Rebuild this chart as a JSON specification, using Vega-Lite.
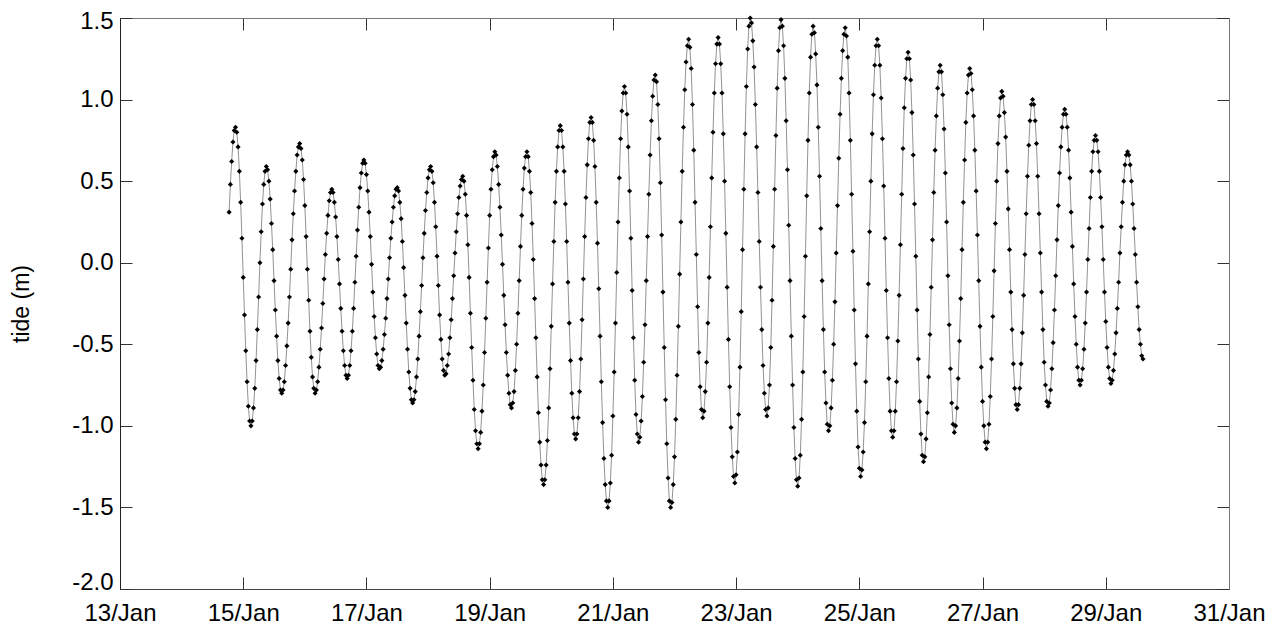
{
"$schema":"https://vega.github.io/schema/vega-lite/v6.json",
"width":1109,"height":571,
"autosize":{"type":"none"},
"padding":{"left":120,"top":18,"right":56,"bottom":39},
"background":"white",
"config":{"view":{"stroke":null},"font":"Liberation Sans","axis":{"labelFont":"Liberation Sans","titleFont":"Liberation Sans","labelFontSize":24,"titleFontSize":23,"labelColor":"black","titleColor":"black","titleFontWeight":"normal","grid":false,"tickSize":-12,"tickColor":"#333","domainColor":"#333","labelFlush":false,"labelOverlap":false}},
"data":{"values":[
{"h":42.5,"v":0.31},{"h":43,"v":0.48},{"h":43.5,"v":0.62},{"h":44,"v":0.74},{"h":44.5,"v":0.81},{"h":45,"v":0.83},
{"h":45.5,"v":0.80},{"h":46,"v":0.71},{"h":46.5,"v":0.56},{"h":47,"v":0.37},{"h":47.5,"v":0.15},{"h":48,"v":-0.09},{"h":48.5,"v":-0.32},{"h":49,"v":-0.54},{"h":49.5,"v":-0.73},{"h":50,"v":-0.88},{"h":50.5,"v":-0.97},{"h":51,"v":-1.00},
{"h":51.5,"v":-0.97},{"h":52,"v":-0.89},{"h":52.5,"v":-0.77},{"h":53,"v":-0.60},{"h":53.5,"v":-0.41},{"h":54,"v":-0.21},{"h":54.5,"v":0.00},{"h":55,"v":0.19},{"h":55.5,"v":0.36},{"h":56,"v":0.48},{"h":56.5,"v":0.56},{"h":57,"v":0.59},
{"h":57.5,"v":0.57},{"h":58,"v":0.50},{"h":58.5,"v":0.39},{"h":59,"v":0.24},{"h":59.5,"v":0.08},{"h":60,"v":-0.11},{"h":60.5,"v":-0.29},{"h":61,"v":-0.45},{"h":61.5,"v":-0.60},{"h":62,"v":-0.71},{"h":62.5,"v":-0.78},{"h":63,"v":-0.80},
{"h":63.5,"v":-0.78},{"h":64,"v":-0.73},{"h":64.5,"v":-0.63},{"h":65,"v":-0.51},{"h":65.5,"v":-0.37},{"h":66,"v":-0.21},{"h":66.5,"v":-0.04},{"h":67,"v":0.14},{"h":67.5,"v":0.30},{"h":68,"v":0.44},{"h":68.5,"v":0.56},{"h":69,"v":0.66},{"h":69.5,"v":0.71},{"h":70,"v":0.73},
{"h":70.5,"v":0.70},{"h":71,"v":0.63},{"h":71.5,"v":0.51},{"h":72,"v":0.35},{"h":72.5,"v":0.16},{"h":73,"v":-0.04},{"h":73.5,"v":-0.23},{"h":74,"v":-0.42},{"h":74.5,"v":-0.58},{"h":75,"v":-0.70},{"h":75.5,"v":-0.77},{"h":76,"v":-0.80},
{"h":76.5,"v":-0.78},{"h":77,"v":-0.73},{"h":77.5,"v":-0.64},{"h":78,"v":-0.53},{"h":78.5,"v":-0.40},{"h":79,"v":-0.25},{"h":79.5,"v":-0.10},{"h":80,"v":0.05},{"h":80.5,"v":0.18},{"h":81,"v":0.29},{"h":81.5,"v":0.38},{"h":82,"v":0.43},{"h":82.5,"v":0.45},
{"h":83,"v":0.43},{"h":83.5,"v":0.37},{"h":84,"v":0.28},{"h":84.5,"v":0.16},{"h":85,"v":0.02},{"h":85.5,"v":-0.13},{"h":86,"v":-0.28},{"h":86.5,"v":-0.42},{"h":87,"v":-0.54},{"h":87.5,"v":-0.63},{"h":88,"v":-0.69},{"h":88.5,"v":-0.71},
{"h":89,"v":-0.69},{"h":89.5,"v":-0.63},{"h":90,"v":-0.54},{"h":90.5,"v":-0.42},{"h":91,"v":-0.28},{"h":91.5,"v":-0.12},{"h":92,"v":0.04},{"h":92.5,"v":0.20},{"h":93,"v":0.34},{"h":93.5,"v":0.46},{"h":94,"v":0.55},{"h":94.5,"v":0.61},{"h":95,"v":0.63},
{"h":95.5,"v":0.61},{"h":96,"v":0.54},{"h":96.5,"v":0.44},{"h":97,"v":0.31},{"h":97.5,"v":0.16},{"h":98,"v":-0.01},{"h":98.5,"v":-0.18},{"h":99,"v":-0.33},{"h":99.5,"v":-0.46},{"h":100,"v":-0.56},{"h":100.5,"v":-0.63},{"h":101,"v":-0.65},
{"h":101.5,"v":-0.64},{"h":102,"v":-0.60},{"h":102.5,"v":-0.53},{"h":103,"v":-0.44},{"h":103.5,"v":-0.34},{"h":104,"v":-0.22},{"h":104.5,"v":-0.10},{"h":105,"v":0.03},{"h":105.5,"v":0.15},{"h":106,"v":0.25},{"h":106.5,"v":0.34},{"h":107,"v":0.41},{"h":107.5,"v":0.45},{"h":108,"v":0.46},
{"h":108.5,"v":0.44},{"h":109,"v":0.37},{"h":109.5,"v":0.27},{"h":110,"v":0.13},{"h":110.5,"v":-0.03},{"h":111,"v":-0.20},{"h":111.5,"v":-0.37},{"h":112,"v":-0.53},{"h":112.5,"v":-0.67},{"h":113,"v":-0.77},{"h":113.5,"v":-0.84},{"h":114,"v":-0.86},
{"h":114.5,"v":-0.84},{"h":115,"v":-0.79},{"h":115.5,"v":-0.70},{"h":116,"v":-0.59},{"h":116.5,"v":-0.45},{"h":117,"v":-0.30},{"h":117.5,"v":-0.14},{"h":118,"v":0.03},{"h":118.5,"v":0.18},{"h":119,"v":0.32},{"h":119.5,"v":0.43},{"h":120,"v":0.52},{"h":120.5,"v":0.57},{"h":121,"v":0.59},
{"h":121.5,"v":0.56},{"h":122,"v":0.49},{"h":122.5,"v":0.37},{"h":123,"v":0.22},{"h":123.5,"v":0.04},{"h":124,"v":-0.14},{"h":124.5,"v":-0.32},{"h":125,"v":-0.47},{"h":125.5,"v":-0.59},{"h":126,"v":-0.66},{"h":126.5,"v":-0.69},
{"h":127,"v":-0.68},{"h":127.5,"v":-0.63},{"h":128,"v":-0.56},{"h":128.5,"v":-0.46},{"h":129,"v":-0.35},{"h":129.5,"v":-0.22},{"h":130,"v":-0.08},{"h":130.5,"v":0.06},{"h":131,"v":0.19},{"h":131.5,"v":0.30},{"h":132,"v":0.40},{"h":132.5,"v":0.47},{"h":133,"v":0.51},{"h":133.5,"v":0.53},
{"h":134,"v":0.50},{"h":134.5,"v":0.42},{"h":135,"v":0.29},{"h":135.5,"v":0.11},{"h":136,"v":-0.09},{"h":136.5,"v":-0.31},{"h":137,"v":-0.52},{"h":137.5,"v":-0.72},{"h":138,"v":-0.90},{"h":138.5,"v":-1.03},{"h":139,"v":-1.11},{"h":139.5,"v":-1.14},
{"h":140,"v":-1.11},{"h":140.5,"v":-1.04},{"h":141,"v":-0.91},{"h":141.5,"v":-0.75},{"h":142,"v":-0.55},{"h":142.5,"v":-0.34},{"h":143,"v":-0.12},{"h":143.5,"v":0.09},{"h":144,"v":0.29},{"h":144.5,"v":0.45},{"h":145,"v":0.57},{"h":145.5,"v":0.65},{"h":146,"v":0.68},
{"h":146.5,"v":0.66},{"h":147,"v":0.59},{"h":147.5,"v":0.48},{"h":148,"v":0.34},{"h":148.5,"v":0.17},{"h":149,"v":-0.01},{"h":149.5,"v":-0.20},{"h":150,"v":-0.38},{"h":150.5,"v":-0.55},{"h":151,"v":-0.69},{"h":151.5,"v":-0.80},{"h":152,"v":-0.87},{"h":152.5,"v":-0.89},
{"h":153,"v":-0.86},{"h":153.5,"v":-0.79},{"h":154,"v":-0.66},{"h":154.5,"v":-0.50},{"h":155,"v":-0.31},{"h":155.5,"v":-0.11},{"h":156,"v":0.10},{"h":156.5,"v":0.29},{"h":157,"v":0.45},{"h":157.5,"v":0.58},{"h":158,"v":0.65},{"h":158.5,"v":0.68},
{"h":159,"v":0.65},{"h":159.5,"v":0.56},{"h":160,"v":0.43},{"h":160.5,"v":0.24},{"h":161,"v":0.02},{"h":161.5,"v":-0.22},{"h":162,"v":-0.46},{"h":162.5,"v":-0.70},{"h":163,"v":-0.92},{"h":163.5,"v":-1.10},{"h":164,"v":-1.24},{"h":164.5,"v":-1.33},{"h":165,"v":-1.36},
{"h":165.5,"v":-1.33},{"h":166,"v":-1.24},{"h":166.5,"v":-1.09},{"h":167,"v":-0.89},{"h":167.5,"v":-0.65},{"h":168,"v":-0.39},{"h":168.5,"v":-0.13},{"h":169,"v":0.13},{"h":169.5,"v":0.37},{"h":170,"v":0.56},{"h":170.5,"v":0.71},{"h":171,"v":0.81},{"h":171.5,"v":0.84},
{"h":172,"v":0.81},{"h":172.5,"v":0.71},{"h":173,"v":0.56},{"h":173.5,"v":0.36},{"h":174,"v":0.13},{"h":174.5,"v":-0.12},{"h":175,"v":-0.37},{"h":175.5,"v":-0.60},{"h":176,"v":-0.80},{"h":176.5,"v":-0.95},{"h":177,"v":-1.05},{"h":177.5,"v":-1.08},
{"h":178,"v":-1.05},{"h":178.5,"v":-0.95},{"h":179,"v":-0.79},{"h":179.5,"v":-0.59},{"h":180,"v":-0.35},{"h":180.5,"v":-0.10},{"h":181,"v":0.16},{"h":181.5,"v":0.40},{"h":182,"v":0.60},{"h":182.5,"v":0.76},{"h":183,"v":0.86},{"h":183.5,"v":0.89},
{"h":184,"v":0.86},{"h":184.5,"v":0.75},{"h":185,"v":0.59},{"h":185.5,"v":0.37},{"h":186,"v":0.12},{"h":186.5,"v":-0.16},{"h":187,"v":-0.45},{"h":187.5,"v":-0.73},{"h":188,"v":-0.98},{"h":188.5,"v":-1.20},{"h":189,"v":-1.36},{"h":189.5,"v":-1.46},{"h":190,"v":-1.50},
{"h":190.5,"v":-1.46},{"h":191,"v":-1.35},{"h":191.5,"v":-1.18},{"h":192,"v":-0.94},{"h":192.5,"v":-0.67},{"h":193,"v":-0.37},{"h":193.5,"v":-0.06},{"h":194,"v":0.25},{"h":194.5,"v":0.52},{"h":195,"v":0.76},{"h":195.5,"v":0.93},{"h":196,"v":1.04},{"h":196.5,"v":1.08},
{"h":197,"v":1.04},{"h":197.5,"v":0.91},{"h":198,"v":0.71},{"h":198.5,"v":0.44},{"h":199,"v":0.15},{"h":199.5,"v":-0.17},{"h":200,"v":-0.46},{"h":200.5,"v":-0.72},{"h":201,"v":-0.93},{"h":201.5,"v":-1.05},{"h":202,"v":-1.10},
{"h":202.5,"v":-1.07},{"h":203,"v":-0.97},{"h":203.5,"v":-0.82},{"h":204,"v":-0.61},{"h":204.5,"v":-0.38},{"h":205,"v":-0.11},{"h":205.5,"v":0.16},{"h":206,"v":0.42},{"h":206.5,"v":0.66},{"h":207,"v":0.87},{"h":207.5,"v":1.02},{"h":208,"v":1.12},{"h":208.5,"v":1.15},
{"h":209,"v":1.11},{"h":209.5,"v":0.97},{"h":210,"v":0.76},{"h":210.5,"v":0.49},{"h":211,"v":0.17},{"h":211.5,"v":-0.18},{"h":212,"v":-0.52},{"h":212.5,"v":-0.84},{"h":213,"v":-1.11},{"h":213.5,"v":-1.32},{"h":214,"v":-1.46},{"h":214.5,"v":-1.50},
{"h":215,"v":-1.47},{"h":215.5,"v":-1.36},{"h":216,"v":-1.19},{"h":216.5,"v":-0.96},{"h":217,"v":-0.69},{"h":217.5,"v":-0.39},{"h":218,"v":-0.07},{"h":218.5,"v":0.25},{"h":219,"v":0.56},{"h":219.5,"v":0.83},{"h":220,"v":1.06},{"h":220.5,"v":1.23},{"h":221,"v":1.33},{"h":221.5,"v":1.37},
{"h":222,"v":1.32},{"h":222.5,"v":1.19},{"h":223,"v":0.97},{"h":223.5,"v":0.69},{"h":224,"v":0.37},{"h":224.5,"v":0.05},{"h":225,"v":-0.27},{"h":225.5,"v":-0.55},{"h":226,"v":-0.76},{"h":226.5,"v":-0.90},{"h":227,"v":-0.95},
{"h":227.5,"v":-0.91},{"h":228,"v":-0.79},{"h":228.5,"v":-0.61},{"h":229,"v":-0.37},{"h":229.5,"v":-0.09},{"h":230,"v":0.22},{"h":230.5,"v":0.52},{"h":231,"v":0.80},{"h":231.5,"v":1.04},{"h":232,"v":1.22},{"h":232.5,"v":1.34},{"h":233,"v":1.38},
{"h":233.5,"v":1.34},{"h":234,"v":1.22},{"h":234.5,"v":1.04},{"h":235,"v":0.79},{"h":235.5,"v":0.50},{"h":236,"v":0.18},{"h":236.5,"v":-0.15},{"h":237,"v":-0.47},{"h":237.5,"v":-0.76},{"h":238,"v":-1.01},{"h":238.5,"v":-1.19},{"h":239,"v":-1.31},{"h":239.5,"v":-1.35},
{"h":240,"v":-1.30},{"h":240.5,"v":-1.16},{"h":241,"v":-0.93},{"h":241.5,"v":-0.64},{"h":242,"v":-0.30},{"h":242.5,"v":0.08},{"h":243,"v":0.45},{"h":243.5,"v":0.79},{"h":244,"v":1.08},{"h":244.5,"v":1.31},{"h":245,"v":1.45},{"h":245.5,"v":1.50},
{"h":246,"v":1.47},{"h":246.5,"v":1.36},{"h":247,"v":1.20},{"h":247.5,"v":0.97},{"h":248,"v":0.71},{"h":248.5,"v":0.43},{"h":249,"v":0.13},{"h":249.5,"v":-0.15},{"h":250,"v":-0.41},{"h":250.5,"v":-0.63},{"h":251,"v":-0.80},{"h":251.5,"v":-0.90},{"h":252,"v":-0.94},
{"h":252.5,"v":-0.89},{"h":253,"v":-0.75},{"h":253.5,"v":-0.52},{"h":254,"v":-0.23},{"h":254.5,"v":0.10},{"h":255,"v":0.45},{"h":255.5,"v":0.78},{"h":256,"v":1.07},{"h":256.5,"v":1.30},{"h":257,"v":1.44},{"h":257.5,"v":1.49},
{"h":258,"v":1.45},{"h":258.5,"v":1.33},{"h":259,"v":1.13},{"h":259.5,"v":0.87},{"h":260,"v":0.57},{"h":260.5,"v":0.23},{"h":261,"v":-0.11},{"h":261.5,"v":-0.45},{"h":262,"v":-0.75},{"h":262.5,"v":-1.01},{"h":263,"v":-1.20},{"h":263.5,"v":-1.33},{"h":264,"v":-1.37},
{"h":264.5,"v":-1.32},{"h":265,"v":-1.18},{"h":265.5,"v":-0.96},{"h":266,"v":-0.67},{"h":266.5,"v":-0.33},{"h":267,"v":0.04},{"h":267.5,"v":0.41},{"h":268,"v":0.75},{"h":268.5,"v":1.04},{"h":269,"v":1.26},{"h":269.5,"v":1.40},{"h":270,"v":1.45},
{"h":270.5,"v":1.41},{"h":271,"v":1.28},{"h":271.5,"v":1.09},{"h":272,"v":0.83},{"h":272.5,"v":0.53},{"h":273,"v":0.21},{"h":273.5,"v":-0.11},{"h":274,"v":-0.41},{"h":274.5,"v":-0.67},{"h":275,"v":-0.86},{"h":275.5,"v":-0.99},{"h":276,"v":-1.03},
{"h":276.5,"v":-1.00},{"h":277,"v":-0.89},{"h":277.5,"v":-0.72},{"h":278,"v":-0.50},{"h":278.5,"v":-0.24},{"h":279,"v":0.06},{"h":279.5,"v":0.35},{"h":280,"v":0.64},{"h":280.5,"v":0.91},{"h":281,"v":1.13},{"h":281.5,"v":1.30},{"h":282,"v":1.40},{"h":282.5,"v":1.44},
{"h":283,"v":1.39},{"h":283.5,"v":1.26},{"h":284,"v":1.04},{"h":284.5,"v":0.75},{"h":285,"v":0.42},{"h":285.5,"v":0.07},{"h":286,"v":-0.29},{"h":286.5,"v":-0.62},{"h":287,"v":-0.91},{"h":287.5,"v":-1.13},{"h":288,"v":-1.26},{"h":288.5,"v":-1.31},
{"h":289,"v":-1.27},{"h":289.5,"v":-1.16},{"h":290,"v":-0.98},{"h":290.5,"v":-0.73},{"h":291,"v":-0.45},{"h":291.5,"v":-0.13},{"h":292,"v":0.19},{"h":292.5,"v":0.50},{"h":293,"v":0.79},{"h":293.5,"v":1.03},{"h":294,"v":1.21},{"h":294.5,"v":1.33},{"h":295,"v":1.37},
{"h":295.5,"v":1.33},{"h":296,"v":1.21},{"h":296.5,"v":1.01},{"h":297,"v":0.76},{"h":297.5,"v":0.47},{"h":298,"v":0.15},{"h":298.5,"v":-0.17},{"h":299,"v":-0.46},{"h":299.5,"v":-0.71},{"h":300,"v":-0.91},{"h":300.5,"v":-1.03},{"h":301,"v":-1.07},
{"h":301.5,"v":-1.03},{"h":302,"v":-0.91},{"h":302.5,"v":-0.73},{"h":303,"v":-0.48},{"h":303.5,"v":-0.20},{"h":304,"v":0.11},{"h":304.5,"v":0.42},{"h":305,"v":0.70},{"h":305.5,"v":0.95},{"h":306,"v":1.13},{"h":306.5,"v":1.25},{"h":307,"v":1.29},
{"h":307.5,"v":1.25},{"h":308,"v":1.12},{"h":308.5,"v":0.92},{"h":309,"v":0.66},{"h":309.5,"v":0.36},{"h":310,"v":0.04},{"h":310.5,"v":-0.29},{"h":311,"v":-0.59},{"h":311.5,"v":-0.85},{"h":312,"v":-1.05},{"h":312.5,"v":-1.18},{"h":313,"v":-1.22},
{"h":313.5,"v":-1.19},{"h":314,"v":-1.08},{"h":314.5,"v":-0.92},{"h":315,"v":-0.70},{"h":315.5,"v":-0.44},{"h":316,"v":-0.15},{"h":316.5,"v":0.14},{"h":317,"v":0.43},{"h":317.5,"v":0.69},{"h":318,"v":0.90},{"h":318.5,"v":1.07},{"h":319,"v":1.17},{"h":319.5,"v":1.21},
{"h":320,"v":1.17},{"h":320.5,"v":1.03},{"h":321,"v":0.82},{"h":321.5,"v":0.55},{"h":322,"v":0.25},{"h":322.5,"v":-0.08},{"h":323,"v":-0.38},{"h":323.5,"v":-0.65},{"h":324,"v":-0.86},{"h":324.5,"v":-0.99},{"h":325,"v":-1.04},
{"h":325.5,"v":-1.00},{"h":326,"v":-0.89},{"h":326.5,"v":-0.71},{"h":327,"v":-0.48},{"h":327.5,"v":-0.22},{"h":328,"v":0.08},{"h":328.5,"v":0.37},{"h":329,"v":0.63},{"h":329.5,"v":0.86},{"h":330,"v":1.04},{"h":330.5,"v":1.15},{"h":331,"v":1.19},
{"h":331.5,"v":1.16},{"h":332,"v":1.06},{"h":332.5,"v":0.90},{"h":333,"v":0.69},{"h":333.5,"v":0.44},{"h":334,"v":0.17},{"h":334.5,"v":-0.11},{"h":335,"v":-0.39},{"h":335.5,"v":-0.64},{"h":336,"v":-0.85},{"h":336.5,"v":-1.00},{"h":337,"v":-1.10},{"h":337.5,"v":-1.14},
{"h":338,"v":-1.10},{"h":338.5,"v":-0.99},{"h":339,"v":-0.82},{"h":339.5,"v":-0.59},{"h":340,"v":-0.33},{"h":340.5,"v":-0.05},{"h":341,"v":0.24},{"h":341.5,"v":0.50},{"h":342,"v":0.73},{"h":342.5,"v":0.90},{"h":343,"v":1.01},{"h":343.5,"v":1.05},
{"h":344,"v":1.02},{"h":344.5,"v":0.92},{"h":345,"v":0.77},{"h":345.5,"v":0.56},{"h":346,"v":0.33},{"h":346.5,"v":0.08},{"h":347,"v":-0.18},{"h":347.5,"v":-0.41},{"h":348,"v":-0.62},{"h":348.5,"v":-0.77},{"h":349,"v":-0.87},{"h":349.5,"v":-0.90},
{"h":350,"v":-0.87},{"h":350.5,"v":-0.77},{"h":351,"v":-0.62},{"h":351.5,"v":-0.43},{"h":352,"v":-0.20},{"h":352.5,"v":0.05},{"h":353,"v":0.30},{"h":353.5,"v":0.53},{"h":354,"v":0.72},{"h":354.5,"v":0.87},{"h":355,"v":0.97},{"h":355.5,"v":1.00},
{"h":356,"v":0.97},{"h":356.5,"v":0.87},{"h":357,"v":0.73},{"h":357.5,"v":0.53},{"h":358,"v":0.30},{"h":358.5,"v":0.06},{"h":359,"v":-0.18},{"h":359.5,"v":-0.41},{"h":360,"v":-0.61},{"h":360.5,"v":-0.75},{"h":361,"v":-0.85},{"h":361.5,"v":-0.88},
{"h":362,"v":-0.86},{"h":362.5,"v":-0.78},{"h":363,"v":-0.65},{"h":363.5,"v":-0.49},{"h":364,"v":-0.29},{"h":364.5,"v":-0.08},{"h":365,"v":0.14},{"h":365.5,"v":0.35},{"h":366,"v":0.55},{"h":366.5,"v":0.71},{"h":367,"v":0.83},{"h":367.5,"v":0.91},{"h":368,"v":0.94},
{"h":368.5,"v":0.91},{"h":369,"v":0.83},{"h":369.5,"v":0.69},{"h":370,"v":0.52},{"h":370.5,"v":0.31},{"h":371,"v":0.10},{"h":371.5,"v":-0.13},{"h":372,"v":-0.33},{"h":372.5,"v":-0.50},{"h":373,"v":-0.64},{"h":373.5,"v":-0.72},{"h":374,"v":-0.75},
{"h":374.5,"v":-0.72},{"h":375,"v":-0.65},{"h":375.5,"v":-0.53},{"h":376,"v":-0.37},{"h":376.5,"v":-0.18},{"h":377,"v":0.02},{"h":377.5,"v":0.21},{"h":378,"v":0.40},{"h":378.5,"v":0.56},{"h":379,"v":0.68},{"h":379.5,"v":0.75},{"h":380,"v":0.78},
{"h":380.5,"v":0.75},{"h":381,"v":0.68},{"h":381.5,"v":0.56},{"h":382,"v":0.40},{"h":382.5,"v":0.22},{"h":383,"v":0.02},{"h":383.5,"v":-0.18},{"h":384,"v":-0.36},{"h":384.5,"v":-0.52},{"h":385,"v":-0.64},{"h":385.5,"v":-0.71},{"h":386,"v":-0.74},
{"h":386.5,"v":-0.72},{"h":387,"v":-0.66},{"h":387.5,"v":-0.56},{"h":388,"v":-0.43},{"h":388.5,"v":-0.28},{"h":389,"v":-0.12},{"h":389.5,"v":0.06},{"h":390,"v":0.22},{"h":390.5,"v":0.37},{"h":391,"v":0.50},{"h":391.5,"v":0.60},{"h":392,"v":0.66},{"h":392.5,"v":0.68},
{"h":393,"v":0.66},{"h":393.5,"v":0.60},{"h":394,"v":0.50},{"h":394.5,"v":0.36},{"h":395,"v":0.21},{"h":395.5,"v":0.05},{"h":396,"v":-0.12},{"h":396.5,"v":-0.27},{"h":397,"v":-0.41},{"h":397.5,"v":-0.50},{"h":398,"v":-0.57},{"h":398.5,"v":-0.59}
]},
"layer":[
{"mark":{"type":"line","color":"#777777","strokeWidth":0.8},
 "encoding":{
  "x":{"field":"h","type":"quantitative","scale":{"domain":[0,432],"nice":false,"zero":false},
       "axis":{"orient":"bottom","values":[0,48,96,144,192,240,288,336,384,432],"labelExpr":"(13 + datum.value/24) + '/Jan'","title":null,"labelPadding":24,"domainColor":"#444"}},
  "y":{"field":"v","type":"quantitative","scale":{"domain":[-2,1.5],"nice":false,"zero":false},
       "axis":{"orient":"left","values":[-2,-1.5,-1,-0.5,0,0.5,1,1.5],"labelExpr":"replace(format(datum.value,'.1f'),'\u2212','-')","labelBaseline":{"condition":{"test":"datum.value == -2","value":"alphabetic"},"value":"middle"},"labelOffset":{"condition":{"test":"datum.value == 1.5","value":3},"value":0},"title":"tide (m)","titlePadding":38,"labelPadding":19,"domainColor":"#222"}}
 }},
{"mark":{"type":"point","shape":"diamond","filled":true,"color":"black","size":26,"opacity":1},
 "encoding":{
  "x":{"field":"h","type":"quantitative",
       "axis":{"orient":"top","values":[0,48,96,144,192,240,288,336,384,432],"labels":false,"title":null,"domainColor":"#777"}},
  "y":{"field":"v","type":"quantitative",
       "axis":{"orient":"right","values":[-2,-1.5,-1,-0.5,0,0.5,1,1.5],"labels":false,"title":null,"domainColor":"#777"}}
 }}
],
"resolve":{"axis":{"x":"independent","y":"independent"}}
}
